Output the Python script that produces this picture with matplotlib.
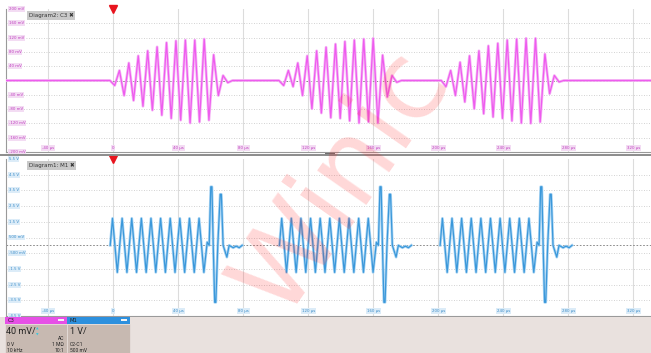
import numpy as np
import matplotlib
matplotlib.use("Agg")
import matplotlib.pyplot as plt
from matplotlib.patches import Rectangle

W, H = 651, 353

# time axis (us), 40 us / div
t_min, t_max = -66.0, 331.0
t_ticks = [-40, 0, 40, 80, 120, 160, 200, 240, 280, 320]
t_labels = ["-40 µs", "0", "40 µs", "80 µs", "120 µs", "160 µs", "200 µs", "240 µs", "280 µs", "320 µs"]

# C3: 40 mV/div
c3_ticks = [200, 160, 120, 80, 40, -40, -80, -120, -160, -200]
c3_labels = ["200 mV", "160 mV", "120 mV", "80 mV", "40 mV", "-40 mV", "-80 mV", "-120 mV", "-160 mV", "-200 mV"]

# M1: 1 V/div
m1_ticks = [5.5, 4.5, 3.5, 2.5, 1.5, 0.5, -0.5, -1.5, -2.5, -3.5, -4.5]
m1_labels = ["5.5 V", "4.5 V", "3.5 V", "2.5 V", "1.5 V", "500 mV", "-500 mV", "-1.5 V", "-2.5 V", "-3.5 V", "-4.5 V"]

# C3 burst extremes (mV), one value per half cycle
c3_half_period = 2.9
c3_burst_start = [-2.0, 102.0, 201.9]
c3_bursts = [
    [0, -14, 28, -42, 49, -56, 69, -72, 83, -83, 94, -97, 106, -106, 111, -111,
     113, -119, 113, -116, 116, -111, 72, -42, 14, -6, 0],
    [0, -14, 28, -17, 49, -42, 69, -79, 83, -91, 93, -104, 102, -106, 109, -113,
     113, -119, 116, -116, 118, -119, 71, -46, 14, -5, 0],
    [0, -17, 28, -42, 51, -60, 69, -79, 83, -93, 97, -102, 104, -106, 113, -113,
     116, -119, 118, -120, 118, -116, 74, -37, 14, -4, 0],
]

# M1 burst: carrier extremes (V) then the ringing tail
m1_half_period = 2.96
m1_first_peak = 1.4
m1_burst_start = [-1.85, 102.3, 201.2]
m1_carrier = [0, 1.72, -1.72, 1.72, -1.72, 1.72, -1.72, 1.72, -1.72, 1.72, -1.72,
              1.72, -1.72, 1.72, -1.72, 1.72, -1.72, 1.72, -1.72, 1.72, -1.72]
m1_tail_t = [59.7, 60.9, 61.9, 62.6, 63.4, 64.3, 65.0, 66.2, 67.7, 68.4, 69.5, 71.8, 73.2, 75.7, 77.5, 79.4, 81.2]
m1_tail_v = [0.2, 0.0, 3.73, 3.73, 0.0, -3.63, -3.63, 0.0, 3.25, 3.25, 0.0, -0.75, 0.0, -0.15, -0.05, -0.15, 0.0]


def c3_trace():
    t, v = [t_min], [0.0]
    for t0, vals in zip(c3_burst_start, c3_bursts):
        for i, val in enumerate(vals):
            t.append(t0 + i * c3_half_period)
            v.append(val)
    t.append(t_max)
    v.append(0.0)
    return np.array(t), np.array(v)


def m1_burst(t0):
    t, v = [t0], [0.0]
    for i, val in enumerate(m1_carrier[1:]):
        t.append(t0 + m1_first_peak + i * m1_half_period)
        v.append(val)
    for dt, val in zip(m1_tail_t, m1_tail_v):
        t.append(t0 + dt)
        v.append(val)
    return np.array(t), np.array(v)


def px(x0, y0, x1, y1):
    # pixel box -> figure fraction rect
    return [x0 / W, 1 - y1 / H, (x1 - x0) / W, (y1 - y0) / H]


fig = plt.figure(figsize=(W / 100, H / 100), dpi=100)
fig.patch.set_facecolor("white")

ax_top = fig.add_axes(px(6, 9, 651, 152))
ax_bot = fig.add_axes(px(6, 159, 651, 316))


def style_panel(ax, ylo, yhi, yticks, ylabels, txt_col, box_col):
    ax.set_xlim(t_min, t_max)
    ax.set_ylim(ylo, yhi)
    ax.set_xticks([])
    ax.set_yticks([])
    for s in ["top", "right"]:
        ax.spines[s].set_visible(False)
    ax.spines["left"].set_color("#9a9a9a")
    ax.spines["bottom"].set_color("#9a9a9a")
    ax.spines["left"].set_linewidth(0.8)
    ax.spines["bottom"].set_linewidth(0.8)
    for tk in t_ticks:
        ax.axvline(tk, color="#dcdcdc", lw=0.8, zorder=0)
    step = (yhi - ylo) / 10
    for k in range(1, 10):
        ax.axhline(ylo + k * step, color="#c4c4c4", lw=0.6, ls=(0, (1, 2)), zorder=0)
    ax.axhline(0, color="#7a7a7a", lw=0.6, ls=(0, (2, 2)), zorder=0)
    for yv, lab in zip(yticks, ylabels):
        ax.text(0.004, yv, lab, transform=ax.get_yaxis_transform(), fontsize=2.8,
                color=txt_col, va="center", ha="left",
                bbox=dict(boxstyle="square,pad=0.25", fc=box_col, ec="none"))
    for tk, lab in zip(t_ticks, t_labels):
        ax.text(tk, 0.03, lab, transform=ax.get_xaxis_transform(), fontsize=2.8,
                color=txt_col, ha="center", va="center",
                bbox=dict(boxstyle="square,pad=0.25", fc=box_col, ec="none"))
    # trigger marker
    ax.plot([0], [1.0], marker="v", ms=6, color="#e8141e", transform=ax.get_xaxis_transform(),
            clip_on=False, zorder=6)


style_panel(ax_top, -200, 200, c3_ticks, c3_labels, "#c040c0", "#f3dcf3")
style_panel(ax_bot, -4.5, 5.5, m1_ticks, m1_labels, "#3a8cc8", "#dcecf8")

tc, vc = c3_trace()
ax_top.plot(tc, vc, color="#f6b6f6", lw=2.0, zorder=3)
ax_top.plot(tc, vc, color="#ee5cee", lw=0.9, zorder=4)

for t0 in m1_burst_start:
    tm, vm = m1_burst(t0)
    ax_bot.plot(tm, vm, color="#acd6f4", lw=2.0, zorder=3)
    ax_bot.plot(tm, vm, color="#3b98da", lw=0.9, zorder=4)

ax_top.text(0.035, 0.955, "Diagram2: C3 \u2716", transform=ax_top.transAxes, fontsize=4,
            color="#333333", va="center", ha="left",
            bbox=dict(boxstyle="square,pad=0.35", fc="#c9c9c9", ec="none"))
ax_bot.text(0.035, 0.96, "Diagram1: M1 \u2716", transform=ax_bot.transAxes, fontsize=4,
            color="#333333", va="center", ha="left",
            bbox=dict(boxstyle="square,pad=0.35", fc="#c9c9c9", ec="none"))

# splitter between the two diagrams
fig.add_artist(plt.Line2D([0, 1], [1 - 154.5 / H] * 2, color="#8c8c8c", lw=1.4))
fig.add_artist(Rectangle((325 / W, 1 - 156 / H), 10 / W, 3 / H, transform=fig.transFigure,
                         fc="#707070", ec="none"))

# channel info strip
fig.add_artist(Rectangle((0, 0), 1, 36 / H, transform=fig.transFigure, fc="#e9e1de", ec="none"))
boxes = [(5, 67, "#e650e6", "C3"), (67, 130, "#2d90de", "M1")]
for x0, x1, col, name in boxes:
    fig.add_artist(Rectangle((x0 / W, 0), (x1 - x0) / W, 29 / H, transform=fig.transFigure,
                             fc="#c7b9b1", ec="#e9e1de", lw=0.5))
    fig.add_artist(Rectangle((x0 / W, 29 / H), (x1 - x0) / W, 7 / H, transform=fig.transFigure,
                             fc=col, ec="none"))
    fig.add_artist(Rectangle(((x1 - 9) / W, 32 / H), 6 / W, 2 / H, transform=fig.transFigure,
                             fc="#f4f4f4", ec="none"))
    fig.text((x0 + 3) / W, 32.5 / H, name, fontsize=3.8, color="#202020", va="center")

info_font = "Roboto"
fig.text(6 / W, 21 / H, "40 mV/", fontsize=6.5, family=info_font, color="#222222", va="center")
fig.text(36 / W, 24 / H, "\u25b2", fontsize=2.4, color="#35c8e0", va="center")
fig.text(36 / W, 18.5 / H, "\u25bc", fontsize=2.4, color="#35c8e0", va="center")
fig.text(64 / W, 15 / H, "AC", fontsize=3.6, family=info_font, color="#222222", va="center", ha="right")
fig.text(7 / W, 9 / H, "0 V", fontsize=3.6, family=info_font, color="#222222", va="center")
fig.text(64 / W, 9 / H, "1 M\u03a9", fontsize=3.6, family=info_font, color="#222222", va="center", ha="right")
fig.text(7 / W, 3 / H, "10 kHz", fontsize=3.6, family=info_font, color="#222222", va="center")
fig.text(64 / W, 3 / H, "10:1", fontsize=3.6, family=info_font, color="#222222", va="center", ha="right")
fig.text(70 / W, 21 / H, "1 V/", fontsize=6.5, family=info_font, color="#222222", va="center")
fig.text(70 / W, 9 / H, "C2-C1", fontsize=3.6, family=info_font, color="#222222", va="center")
fig.text(70 / W, 3 / H, "500 mV", fontsize=3.6, family=info_font, color="#222222", va="center")

# watermark
fig.text(342 / W, 1 - 182 / H, "Winic", fontsize=78, color="#ff1818",
         alpha=0.17, rotation=55, ha="center", va="center", zorder=20)

fig.savefig("out.png", dpi=100)
